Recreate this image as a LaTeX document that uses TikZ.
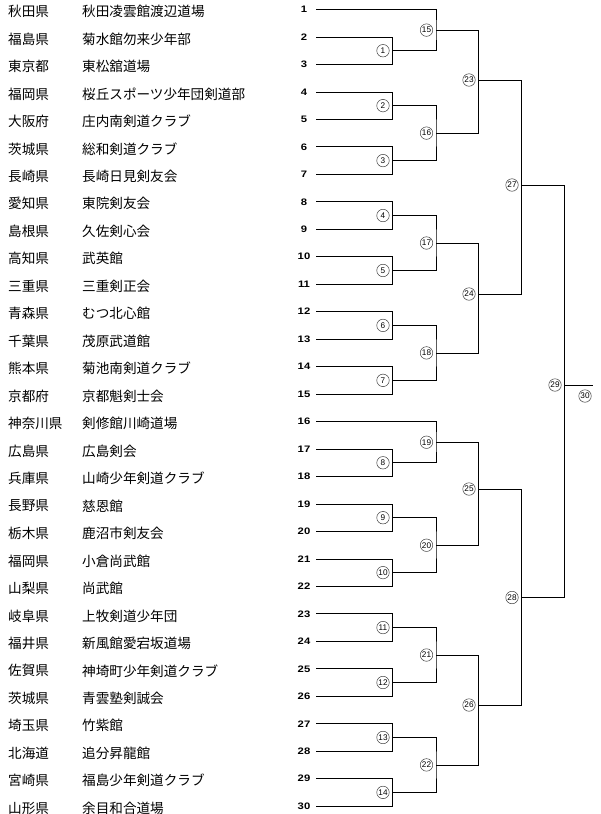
\documentclass[tikz,border=0pt]{standalone}
\usepackage{fontspec}
\newfontfamily\jfont{Noto Sans CJK JP}
\newfontfamily\numfont[FakeStretch=1.2]{Liberation Sans}
\newfontfamily\rndfont{Liberation Sans}

\tikzset{
  pref/.style={anchor=west, inner sep=0pt, font=\jfont\fontsize{13.6}{16}\selectfont},
  team/.style={pref},
  entno/.style={inner sep=0pt, font=\numfont\bfseries\fontsize{9.4}{10}\selectfont},
  rnd/.style={circle, draw=black!75, line width=0.5pt, minimum size=12.5pt, inner sep=0pt,
    font=\rndfont\fontsize{8.2}{9}\selectfont},
  bracket/.style={line width=0.8pt}
}

\begin{document}
\begin{tikzpicture}[x=1pt,y=-1pt]
\useasboundingbox (0,0) rectangle (600,814);

% entries
\foreach \i/\p/\t in {1/秋田県/秋田凌雲館渡辺道場, 2/福島県/菊水館勿来少年部, 3/東京都/東松舘道場,
  4/福岡県/桜丘スポーツ少年団剣道部, 5/大阪府/庄内南剣道クラブ, 6/茨城県/総和剣道クラブ,
  7/長崎県/長崎日見剣友会, 8/愛知県/東院剣友会, 9/島根県/久佐剣心会, 10/高知県/武英館,
  11/三重県/三重剣正会, 12/青森県/むつ北心館, 13/千葉県/茂原武道館, 14/熊本県/菊池南剣道クラブ,
  15/京都府/京都魁剣士会, 16/神奈川県/剣修館川崎道場, 17/広島県/広島剣会,
  18/兵庫県/山崎少年剣道クラブ, 19/長野県/慈恩館, 20/栃木県/鹿沼市剣友会, 21/福岡県/小倉尚武館,
  22/山梨県/尚武館, 23/岐阜県/上牧剣道少年団, 24/福井県/新風館愛宕坂道場,
  25/佐賀県/神埼町少年剣道クラブ, 26/茨城県/青雲塾剣誠会, 27/埼玉県/竹紫館, 28/北海道/追分昇龍館,
  29/宮崎県/福島少年剣道クラブ, 30/山形県/余目和合道場}
{
  \coordinate (e\i) at (316, {9.5+27.47*(\i-1)});
  \node[pref] (p\i) at (8, {11.5+27.47*(\i-1)}) {\p};
  \node[team] (t\i) at (82, {11.5+27.47*(\i-1)}) {\t};
  \node[entno] (n\i) at (304, {9.5+27.47*(\i-1)}) {\i};
}

% match points
\foreach \m/\a in {1/2,2/4,3/6,4/8,5/10,6/12,7/14,8/17,9/19,10/21,11/23,12/25,13/27,14/29}
  \coordinate (m\m) at (392.5, {9.5+27.47*(\a-0.5)});
\foreach \m/\y in {15/30.1,16/133.1,17/243,18/352.9,19/442.2,20/545.2,21/655,22/764.9}
  \coordinate (m\m) at (436, \y);
\foreach \m/\y in {23/80,24/294,25/489,26/705}
  \coordinate (m\m) at (478.5, \y);
\coordinate (m27) at (521.5,185);
\coordinate (m28) at (521.5,597.5);
\coordinate (m29) at (564.5,385);
\coordinate (fin) at (593,385);

% bracket lines
\foreach \m/\a/\b in {1/e2/e3, 2/e4/e5, 3/e6/e7, 4/e8/e9, 5/e10/e11, 6/e12/e13, 7/e14/e15,
  8/e17/e18, 9/e19/e20, 10/e21/e22, 11/e23/e24, 12/e25/e26, 13/e27/e28, 14/e29/e30,
  15/e1/m1, 16/m2/m3, 17/m4/m5, 18/m6/m7, 19/e16/m8, 20/m9/m10, 21/m11/m12, 22/m13/m14,
  23/m15/m16, 24/m17/m18, 25/m19/m20, 26/m21/m22, 27/m23/m24, 28/m25/m26, 29/m27/m28}
  \draw[bracket] (\a) -| (m\m) |- (\b);
\draw[bracket] (m29) -- (fin);

% match numbers
\foreach \m in {1,...,29}
  \node[rnd, fill=white] (c\m) at ([xshift=-9.5pt]m\m) {\m};
\node[rnd] (c30) at (585,396) {30};

\end{tikzpicture}
\end{document}
